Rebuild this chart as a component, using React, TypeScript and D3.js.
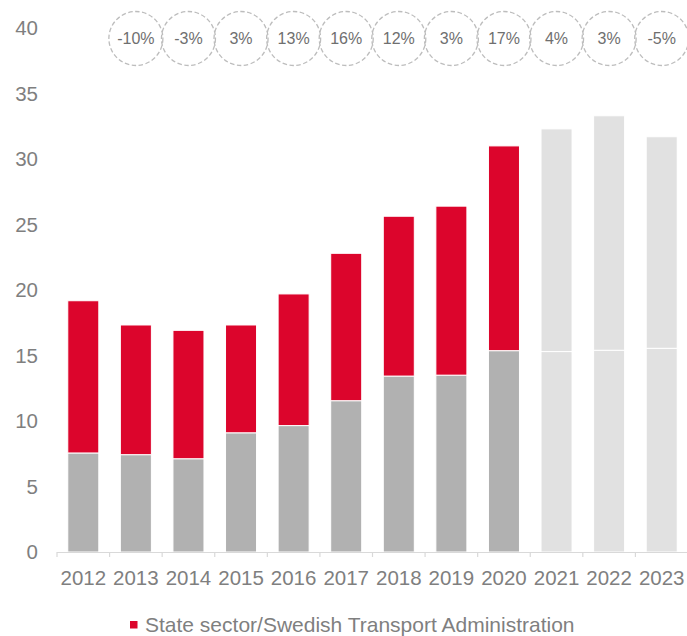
import React from "react";
import * as d3 from "d3";

const years = ["2012","2013","2014","2015","2016","2017","2018","2019","2020","2021","2022","2023"];
const otherValues = [7.56, 7.43, 7.12, 9.1, 9.65, 11.55, 13.43, 13.5, 15.37, 15.3, 15.4, 15.55];
const stateValues = [11.62, 9.9, 9.8, 8.23, 10.05, 11.25, 12.2, 12.9, 15.63, 17.0, 17.9, 16.15];
const forecastYears = ["2021","2022","2023"];
const growthYears = ["2013","2014","2015","2016","2017","2018","2019","2020","2021","2022","2023"];
const growthLabels = ["-10%","-3%","3%","13%","16%","12%","3%","17%","4%","3%","-5%"];
const yTicks = [0, 5, 10, 15, 20, 25, 30, 35, 40];
const legendLabel = "State sector/Swedish Transport Administration";

const W = 687, H = 636;
const FONT = "'Liberation Sans', Arial, sans-serif";
const TEXT = "#7f7f7f";
const RED = "#dc052c";
const GREY = "#b1b1b1";
const LIGHT = "#e1e1e1";

export default function App() {
  const x = d3.scaleBand<string>().domain(years).range([57, 688]).paddingInner(0.41).paddingOuter(0.205);
  const y = d3.scaleLinear().domain([0, 40]).range([552, 28]);
  const bw = x.bandwidth();
  const r = 27;

  return (
    <svg width={W} height={H} style={{ position: "absolute", left: 0, top: 0, background: "#fff" }} fontFamily={FONT}>
      {years.map((yr, i) => {
        const fc = forecastYears.includes(yr);
        const x0 = x(yr)!;
        const g = otherValues[i];
        const s = stateValues[i];
        return (
          <g key={yr}>
            <rect x={x0} y={y(g)} width={bw} height={y(0) - y(g)} fill={fc ? LIGHT : GREY} stroke="#fff" strokeWidth={1} />
            <rect x={x0} y={y(g + s)} width={bw} height={y(g) - y(g + s)} fill={fc ? LIGHT : RED} stroke="#fff" strokeWidth={1} />
          </g>
        );
      })}
      <line x1={57} x2={688} y1={y(0) + 0.5} y2={y(0) + 0.5} stroke="#d9d9d9" strokeWidth={1.2} />
      {years.map((yr) => (
        <line key={"t" + yr} x1={x(yr)! - x.step() * 0.205} x2={x(yr)! - x.step() * 0.205} y1={y(0)} y2={y(0) + 5} stroke="#d9d9d9" strokeWidth={1.2} />
      ))}
      {yTicks.map((t) => (
        <text key={"y" + t} x={38} y={y(t)} dy="0.36em" textAnchor="end" fontSize={20.5} fill={TEXT}>{t}</text>
      ))}
      {years.map((yr) => (
        <text key={"x" + yr} x={x(yr)! + bw / 2} y={585} textAnchor="middle" fontSize={20.5} fill={TEXT}>{yr}</text>
      ))}
      {growthYears.map((yr, i) => {
        const cx = x(yr)! + bw / 2;
        const cy = 38.5;
        return (
          <g key={"c" + yr}>
            <circle cx={cx} cy={cy} r={r} fill="none" stroke="#bdbdbd" strokeWidth={1.3} strokeDasharray="4.5 2.5" />
            <text x={cx} y={cy} dy="0.36em" textAnchor="middle" fontSize={16} fill="#6f6f6f">{growthLabels[i]}</text>
          </g>
        );
      })}
      <rect x={130} y={621} width={7.5} height={7.5} fill={RED} />
      <text x={145} y={632} fontSize={21} fill={TEXT}>{legendLabel}</text>
    </svg>
  );
}
